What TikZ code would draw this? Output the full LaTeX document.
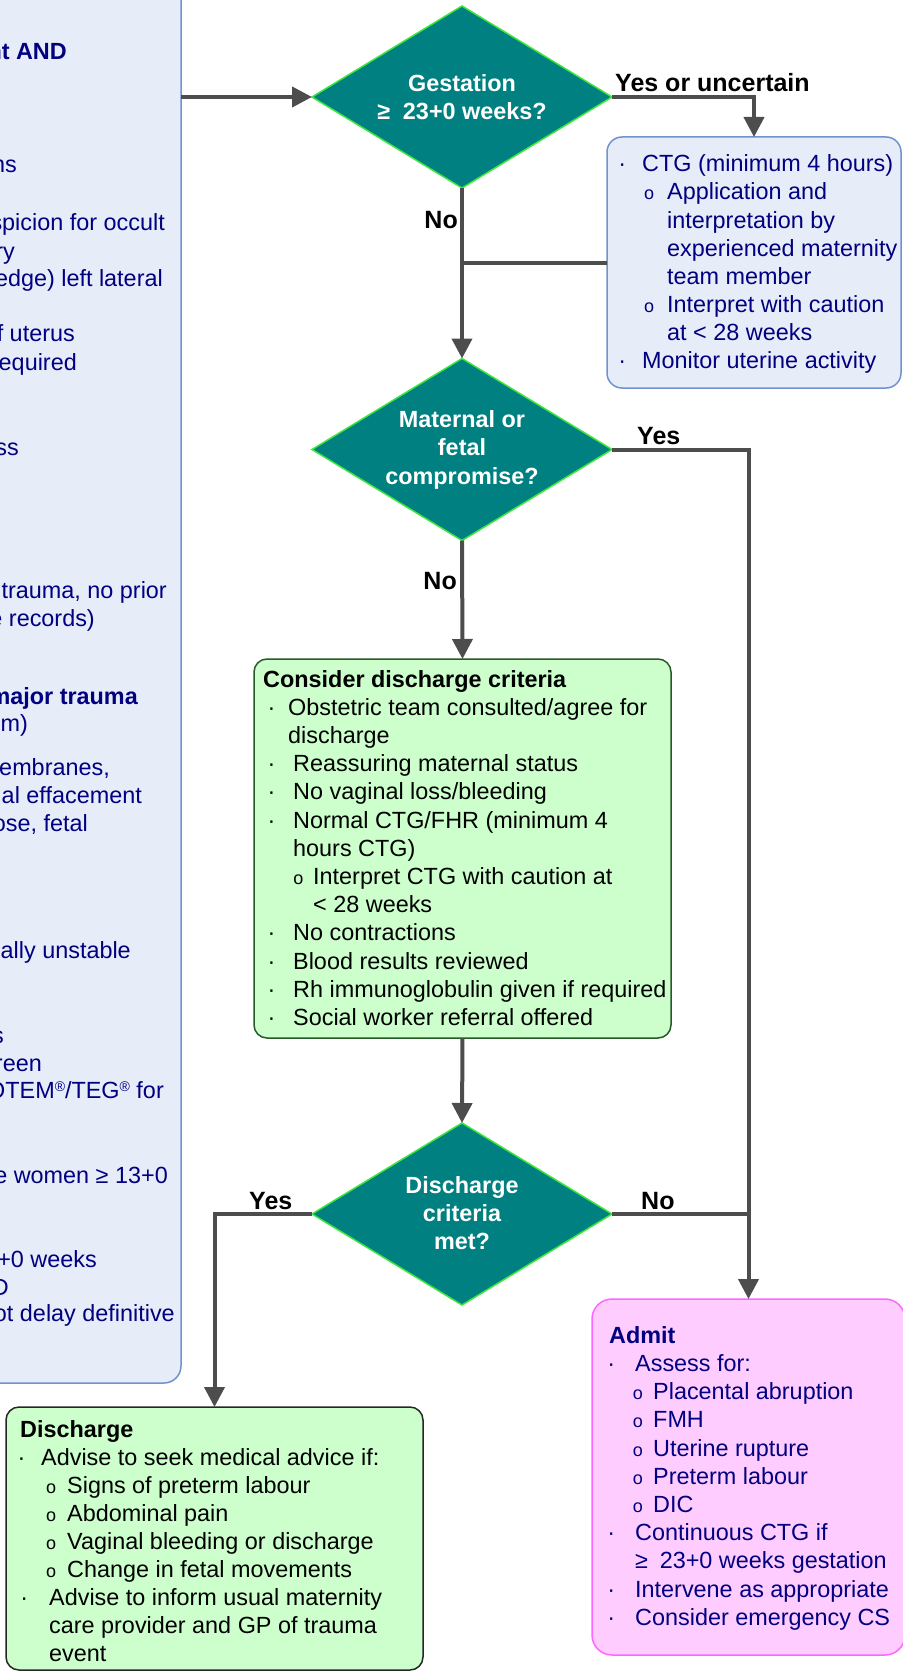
\documentclass[tikz,border=0pt]{standalone}
\usepackage{fontspec}
\setmainfont{Liberation Sans}
\usetikzlibrary{arrows.meta,shapes.geometric}
\definecolor{navy}{RGB}{0,0,128}
\definecolor{lbfill}{RGB}{230,236,248}
\definecolor{lbdraw}{RGB}{112,146,206}
\definecolor{tealfill}{RGB}{0,128,128}
\definecolor{diaedge}{RGB}{60,230,60}
\definecolor{gfill}{RGB}{204,255,204}
\definecolor{gdraw}{RGB}{40,90,40}
\definecolor{pfill}{RGB}{255,204,255}
\definecolor{pdraw}{RGB}{255,102,255}
\definecolor{conn}{RGB}{77,77,77}
\newcommand\bdot[1]{\llap{·\hspace{#1pt}}}
\newcommand\bsub[1]{\llap{{\fontsize{18}{18}\selectfont o}\hspace{#1pt}}}
\newcommand\regm{\raisebox{7pt}{\fontsize{14}{14}\selectfont ®}}
\begin{document}
\begin{tikzpicture}[x=1pt,y=-1pt,
  tx/.style={anchor=base west, inner sep=0pt, font=\fontsize{23.4}{28}\selectfont},
  txb/.style={anchor=base west, inner sep=0pt, font=\fontsize{23.4}{28}\selectfont\bfseries},
  txr/.style={anchor=base east, inner sep=0pt, text=navy, font=\fontsize{23.4}{28}\selectfont},
  dtx/.style={anchor=base, inner sep=0pt, text=white, font=\fontsize{23.4}{28}\selectfont\bfseries},
  lab/.style={inner sep=0pt, font=\fontsize{25}{30}\selectfont\bfseries},
  dia/.style={diamond, draw=diaedge, fill=tealfill, line width=1.5pt, minimum width=300pt, minimum height=182pt, inner sep=0pt, outer sep=0pt},
  arr/.style={draw=conn, line width=4pt, -{Triangle[width=20pt,length=20pt]}},
  ln/.style={draw=conn, line width=4pt},
  box/.style={rectangle, rounded corners=15pt, line width=1.5pt, inner sep=0pt, outer sep=0pt}
]
\useasboundingbox (0,0) rectangle (902,1672);

% boxes
\node[box, fill=lbfill, draw=lbdraw, minimum width=241pt, minimum height=1443pt, rounded corners=17pt] (lb) at (60.5,661.5) {};
\node[box, fill=lbfill, draw=lbdraw, minimum width=294pt, minimum height=251pt] (ctg) at (754,262.5) {};
\node[box, fill=gfill, draw=gdraw, minimum width=417pt, minimum height=379pt, rounded corners=13pt] (cons) at (462.5,848.5) {};
\node[box, fill=gfill, draw=black!85, minimum width=417pt, minimum height=263pt, rounded corners=13pt] (dis) at (214.5,1538.5) {};
\node[box, fill=pfill, draw=pdraw, minimum width=313pt, minimum height=356pt, rounded corners=20pt] (adm) at (748.5,1477) {};

% diamonds
\node[dia] (d1) at (462,97) {};
\node[dia] (d2) at (462,449.5) {};
\node[dia] (d3) at (462,1214) {};

% connectors
\draw[arr] (lb.east |- d1.west) -- (d1.west);
\draw[arr] (d1.east) -| (ctg.north);
\draw[ln] (ctg.west) -- (ctg.west -| d1.south);
\draw[arr] (d1.south) -- (d2.north);
\draw[arr] (d2.east) -| (adm.north);
\draw[arr] (d2.south) -- (cons.north);
\draw[arr] (cons.south) -- (d3.north);
\draw[ln] (d3.east) -- (d3.east -| adm.north);
\draw[arr] (d3.west) -| (dis.north);

% diamond texts
\node[dtx] (d1a) at (462,92) {Gestation};
\node[dtx] (d1b) at (462,120) {≥\hspace{0.55em}23+0 weeks?};
\node[dtx] (d2a) at (462,427) {Maternal or};
\node[dtx] (d2b) at (462,455.5) {fetal};
\node[dtx] (d2c) at (462,484) {compromise?};
\node[dtx] (d3a) at (462,1193) {Discharge};
\node[dtx] (d3b) at (462,1221) {criteria};
\node[dtx] (d3c) at (462,1249) {met?};

% labels
\node[lab, anchor=base west] (lyu) at (615,92) {Yes or uncertain};
\node[lab, anchor=base east] (lno1) at (458,228) {No};
\node[lab, anchor=base west] (lyes2) at (637,444) {Yes};
\node[lab, anchor=base east] (lno2) at (457,589) {No};
\node[lab, anchor=base west] (lyes3) at (249,1209) {Yes};
\node[lab, anchor=base west] (lno3) at (641,1209) {No};

% CTG box text
\node[tx,text=navy] (c1) at (642,172) {\bdot{16}CTG (minimum 4 hours)};
\node[tx,text=navy] (c2) at (667,200) {\bsub{13}Application and};
\node[tx,text=navy] (c3) at (667,228) {interpretation by};
\node[tx,text=navy] (c4) at (667,256) {experienced maternity};
\node[tx,text=navy] (c5) at (667,284) {team member};
\node[tx,text=navy] (c6) at (667,312) {\bsub{13}Interpret with caution};
\node[tx,text=navy] (c7) at (667,340) {at < 28 weeks};
\node[tx,text=navy] (c8) at (642,368) {\bdot{16}Monitor uterine activity};

% Consider discharge criteria
\node[txb] (g0) at (263,687) {Consider discharge criteria};
\node[tx] (g1) at (288,715.2) {\bdot{12.75}Obstetric team consulted/agree for};
\node[tx] (g2) at (288,743.4) {discharge};
\node[tx] (g3) at (293,771.6) {\bdot{17.75}Reassuring maternal status};
\node[tx] (g4) at (293,799.8) {\bdot{17.75}No vaginal loss/bleeding};
\node[tx] (g5) at (293,828) {\bdot{17.75}Normal CTG/FHR (minimum 4};
\node[tx] (g6) at (293,856.2) {hours CTG)};
\node[tx] (g7) at (313,884.4) {\bsub{9.8}Interpret CTG with caution at};
\node[tx] (g8) at (313,912.6) {< 28 weeks};
\node[tx] (g9) at (293,940.8) {\bdot{17.75}No contractions};
\node[tx] (g10) at (293,969) {\bdot{17.75}Blood results reviewed};
\node[tx] (g11) at (293,997.2) {\bdot{17.75}Rh immunoglobulin given if required};
\node[tx] (g12) at (293,1025.4) {\bdot{17.75}Social worker referral offered};

% Discharge
\node[txb] (e0) at (20,1437) {Discharge};
\node[tx] (e1) at (41,1465.1) {\bdot{15.75}Advise to seek medical advice if:};
\node[tx] (e2) at (67,1493.2) {\bsub{11}Signs of preterm labour};
\node[tx] (e3) at (67,1521.3) {\bsub{11}Abdominal pain};
\node[tx] (e4) at (67,1549.4) {\bsub{11}Vaginal bleeding or discharge};
\node[tx] (e5) at (67,1577.5) {\bsub{11}Change in fetal movements};
\node[tx] (e6) at (49,1605.6) {\bdot{21}Advise to inform usual maternity};
\node[tx] (e7) at (49,1633.7) {care provider and GP of trauma};
\node[tx] (e8) at (49,1661.8) {event};

% Admit
\node[txb,text=navy] (a0) at (609,1343) {Admit};
\node[tx,text=navy] (a1) at (635,1371.4) {\bdot{20}Assess for:};
\node[tx,text=navy] (a2) at (653,1399.6) {\bsub{10.3}Placental abruption};
\node[tx,text=navy] (a3) at (653,1427.8) {\bsub{10.3}FMH};
\node[tx,text=navy] (a4) at (653,1456) {\bsub{10.3}Uterine rupture};
\node[tx,text=navy] (a5) at (653,1484.2) {\bsub{10.3}Preterm labour};
\node[tx,text=navy] (a6) at (653,1512.4) {\bsub{10.3}DIC};
\node[tx,text=navy] (a7) at (635,1540.6) {\bdot{20}Continuous CTG if};
\node[tx,text=navy] (a8) at (635,1568.8) {≥\hspace{0.5em}23+0 weeks gestation};
\node[tx,text=navy] (a9) at (635,1597) {\bdot{20}Intervene as appropriate};
\node[tx,text=navy] (a10) at (635,1625.2) {\bdot{20}Consider emergency CS};

% left box fragments
\node[txr,font=\fontsize{23.4}{28}\selectfont\bfseries] (l1) at (67,60) {nt AND};
\node[txr] (l2) at (17,173) {ns};
\node[txr] (l3) at (165,230) {spicion for occult};
\node[txr] (l4) at (15,259) {ry};
\node[txr] (l5) at (163,286) {edge) left lateral};
\node[txr] (l6) at (75,341) {f uterus};
\node[txr] (l7) at (77,370) {equired};
\node[txr] (l8) at (19,455) {ss};
\node[txr] (l9) at (167,598) {trauma, no prior};
\node[txr] (l10) at (95,626) {e records)};
\node[txr,font=\fontsize{23.4}{28}\selectfont\bfseries] (l11) at (138,704) {major trauma};
\node[txr] (l12) at (28,731) {m)};
\node[txr] (l13) at (110,775) {embranes,};
\node[txr] (l14) at (142,803) {al effacement};
\node[txr] (l15) at (88,831) {ose, fetal};
\node[txr] (l16) at (131,958) {ally unstable};
\node[txr] (l17) at (4,1043) {s};
\node[txr] (l18) at (42,1071) {reen};
\node[txr] (l19) at (164,1098) {OTEM\regm/TEG\regm{} for};
\node[txr] (l20) at (168,1183) {e women ≥ 13+0};
\node[txr] (l21) at (97,1267) {+0 weeks};
\node[txr] (l22) at (9,1295) {D};
\node[txr] (l23) at (175,1321) {ot delay definitive};
\end{tikzpicture}
\end{document}
